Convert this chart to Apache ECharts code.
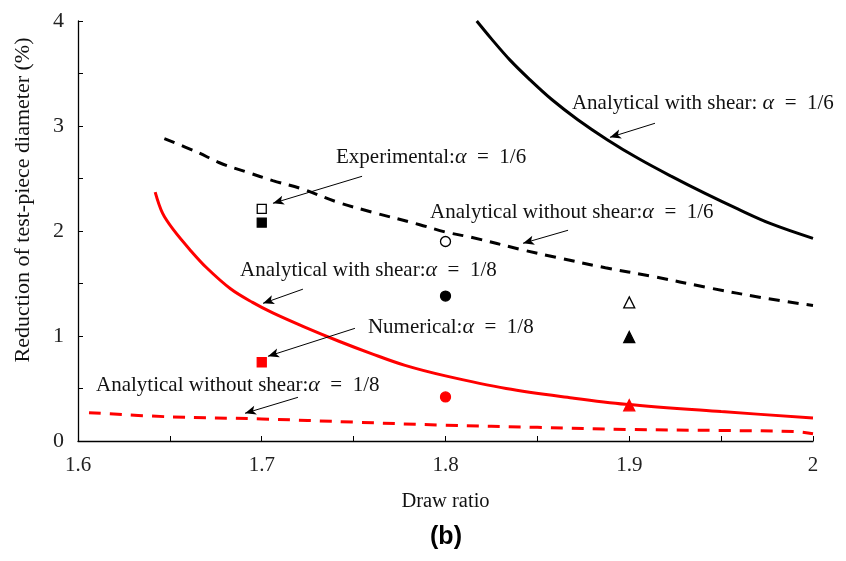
<!DOCTYPE html>
<html>
<head>
<meta charset="utf-8">
<script src="https://cdn.jsdelivr.net/npm/echarts@6/dist/echarts.min.js"></script>
<style>
    html, body {margin: 0; padding: 0; background: #fff;}
    #chart {width: 846px; height: 561px;}
</style>
</head>
<body>
<div id="chart"></div>
<script>
// curves
var withShear16X = [1.817, 1.825, 1.835, 1.846, 1.858, 1.872, 1.888, 1.905, 1.923, 1.941, 1.959, 1.977, 2.0];
var withShear16Y = [4.0, 3.83, 3.63, 3.44, 3.25, 3.06, 2.87, 2.69, 2.52, 2.36, 2.21, 2.07, 1.93];
var noShear16X = [1.647, 1.665, 1.677, 1.692, 1.706, 1.722, 1.742, 1.760, 1.786, 1.80, 1.814, 1.842, 1.86, 1.887, 1.912, 1.943, 1.974, 2.0];
var noShear16Y = [2.88, 2.75, 2.65, 2.56, 2.48, 2.40, 2.27, 2.18, 2.06, 1.99, 1.94, 1.82, 1.75, 1.65, 1.57, 1.46, 1.36, 1.29];
var withShear18X = [1.642, 1.646, 1.652, 1.661, 1.670, 1.683, 1.695, 1.706, 1.724, 1.742, 1.760, 1.778, 1.80, 1.833, 1.869, 1.898, 1.95, 2.0];
var withShear18Y = [2.37, 2.17, 2.01, 1.82, 1.65, 1.45, 1.32, 1.22, 1.08, 0.95, 0.83, 0.72, 0.62, 0.50, 0.41, 0.35, 0.28, 0.22];
var noShear18X = [1.606, 1.65, 1.70, 1.75, 1.80, 1.85, 1.90, 1.95, 1.99, 2.0];
var noShear18Y = [0.27, 0.23, 0.21, 0.18, 0.15, 0.13, 0.11, 0.10, 0.09, 0.07];

// points
var drawRatios = [1.7, 1.8, 1.9];
var pointShapes = ['rect', 'circle', 'triangle'];
var exp16 = [2.21, 1.90, 1.32];
var num16 = [2.08, 1.38, 0.99];
var num18 = [0.75, 0.42, 0.34];

// annotations: text, text left/center (data), arrow start, arrow end
var noteTexts = ['Analytical with shear: {a|α}\u2002=\u20021/6', 'Experimental:{a|α}\u2002=\u20021/6', 'Analytical without shear:{a|α}\u2002=\u20021/6',
    'Analytical with shear:{a|α}\u2002=\u20021/8', 'Numerical:{a|α}\u2002=\u20021/8', 'Analytical without shear:{a|α}\u2002=\u20021/8'];
var notePos = [[1.8688, 3.216], [1.7404, 2.702], [1.7916, 2.178], [1.6882, 1.626], [1.7578, 1.083], [1.6098, 0.531]];
var arrowFrom = [[1.914, 3.026], [1.7546, 2.521], [1.8667, 2.007], [1.7224, 1.446], [1.7507, 1.073], [1.7197, 0.416]];
var arrowTo = [[1.8895, 2.892], [1.7061, 2.264], [1.8422, 1.883], [1.7007, 1.311], [1.7034, 0.807], [1.6909, 0.264]];

var serif = "'Liberation Serif', 'Times New Roman', serif";

function pairs(xs, ys) {
    var out = [];
    for (var i = 0; i < xs.length; i++) {
        out.push([xs[i], ys[i]]);
    }
    return out;
}

var e = echarts.init(document.getElementById('chart'));

var arrows = [];
for (var i = 0; i < arrowFrom.length; i++) {
    arrows.push([{coord: arrowFrom[i]}, {coord: arrowTo[i]}]);
}

function curve(xs, ys, color, type) {
    return {
        type: 'line',
        data: pairs(xs, ys),
        smooth: 0.35,
        showSymbol: false,
        silent: true,
        lineStyle: {color: color, width: 3, type: type, cap: 'butt'},
        z: 2
    };
}

function points(vals, fill, stroke) {
    return {
        type: 'scatter',
        data: pairs(drawRatios, vals),
        symbol: function (v, p) {
            return pointShapes[p.dataIndex];
        },
        symbolSize: function (v, p) {
            return [9, 10, 11][p.dataIndex];
        },
        itemStyle: {color: fill, borderColor: stroke, borderWidth: 1.3, opacity: 1},
        silent: true,
        z: 3
    };
}

var arrowSeries = {
    type: 'line',
    data: [],
    silent: true,
    markLine: {
        silent: true,
        symbol: ['none', 'arrow'],
        symbolSize: [7, 11],
        label: {show: false},
        lineStyle: {color: '#000', width: 1, type: 'solid'},
        data: arrows
    }
};

var option = {
    animation: false,
    grid: {left: 78, right: 33, top: 21, bottom: 120},
    xAxis: {
        type: 'value',
        min: 1.6,
        max: 2,
        interval: 0.05,
        name: 'Draw ratio',
        nameLocation: 'middle',
        nameGap: 50,
        nameTextStyle: {fontFamily: serif, fontSize: 20.5, color: '#111'},
        splitLine: {show: false},
        axisLine: {lineStyle: {color: '#000', width: 1.3}},
        axisTick: {inside: true, length: 5, lineStyle: {color: '#000'}},
        axisLabel: {
            fontFamily: serif, fontSize: 21, color: '#222', margin: 14,
            formatter: function (v) {
                var t = Math.round(v * 100);
                if (t % 10 !== 0) return '';
                return t === 200 ? '2' : (t / 100).toFixed(1);
            }
        }
    },
    yAxis: {
        type: 'value',
        min: 0,
        max: 4,
        interval: 0.5,
        splitLine: {show: false},
        axisLine: {show: true, lineStyle: {color: '#000', width: 1.3}},
        axisTick: {show: true, inside: true, length: 5, lineStyle: {color: '#000'}},
        axisLabel: {
            fontFamily: serif, fontSize: 22, color: '#222', margin: 14,
            formatter: function (v) {
                return Math.abs(v - Math.round(v)) < 1e-6 ? String(Math.round(v)) : '';
            }
        }
    },
    series: [
        curve(withShear16X, withShear16Y, '#000', 'solid'),
        curve(noShear16X, noShear16Y, '#000', [11, 8]),
        curve(withShear18X, withShear18Y, '#ff0000', 'solid'),
        curve(noShear18X, noShear18Y, '#ff0000', [12, 9]),
        points(exp16, '#fff', '#000'),
        points(num16, '#000', '#000'),
        points(num18, '#ff0000', '#ff0000'),
        arrowSeries
    ]
};
e.setOption(option);

// text labels placed through the axes
var graphics = [];
for (var j = 0; j < noteTexts.length; j++) {
    var p = e.convertToPixel({gridIndex: 0}, notePos[j]);
    graphics.push({
        type: 'text',
        x: p[0],
        y: p[1],
        silent: true,
        style: {
            text: noteTexts[j],
            fontFamily: serif,
            fontSize: 21,
            fill: '#111',
            verticalAlign: 'middle',
            align: 'left',
            rich: {
                a: {fontFamily: serif, fontStyle: 'italic', fontSize: 22, fill: '#111'}
            }
        }
    });
}
graphics.push({
    type: 'text',
    x: 23,
    y: 200,
    rotation: Math.PI / 2,
    silent: true,
    style: {
        text: 'Reduction of test-piece diameter (%)',
        fontFamily: serif,
        fontSize: 22,
        fill: '#111',
        align: 'center',
        verticalAlign: 'middle'
    }
});
graphics.push({
    type: 'text',
    x: 446,
    y: 537,
    silent: true,
    style: {
        text: '(b)',
        fontFamily: "'Liberation Sans', Arial, sans-serif",
        fontWeight: 'bold',
        fontSize: 25,
        fill: '#000',
        align: 'center',
        verticalAlign: 'middle'
    }
});
e.setOption({graphic: graphics});
</script>
</body>
</html>
